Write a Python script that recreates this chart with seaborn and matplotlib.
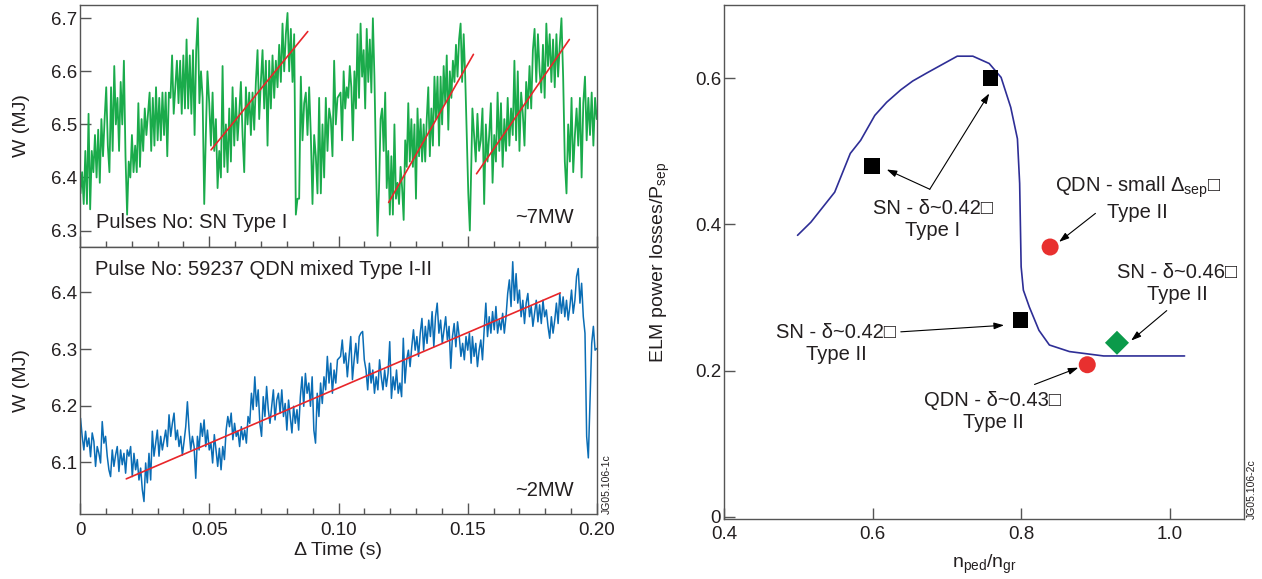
import numpy as np
import pandas as pd
import matplotlib
matplotlib.use("Agg")
import matplotlib.pyplot as plt
import seaborn as sns
from matplotlib.ticker import FixedLocator, FixedFormatter, MultipleLocator

# ---------------- data ----------------
# Top panel: SN, Type I ELMs, stored energy W (MJ) read in four time windows (s)
green_windows = [(0.0002, 0.0493), (0.0500, 0.0996), (0.1008, 0.1514), (0.1518, 0.1999)]
green_w1 = [6.37, 6.41, 6.35, 6.45, 6.35, 6.52, 6.34, 6.45, 6.41, 6.48,
            6.40, 6.49, 6.39, 6.51, 6.44, 6.51, 6.57, 6.46, 6.41, 6.57,
            6.45, 6.61, 6.50, 6.55, 6.45, 6.58, 6.50, 6.62, 6.44, 6.33,
            6.43, 6.40, 6.48, 6.41, 6.46, 6.41, 6.54, 6.42, 6.51, 6.45,
            6.53, 6.48, 6.52, 6.56, 6.45, 6.55, 6.46, 6.57, 6.47, 6.55,
            6.47, 6.56, 6.48, 6.56, 6.44, 6.56, 6.55, 6.63, 6.52, 6.57,
            6.62, 6.54, 6.62, 6.52, 6.63, 6.53, 6.66, 6.53, 6.63, 6.52,
            6.64, 6.48, 6.64, 6.70, 6.54, 6.60, 6.55, 6.35, 6.48, 6.60]
green_w2 = [6.54, 6.46, 6.56, 6.45, 6.51, 6.38, 6.45, 6.40, 6.61, 6.42,
            6.50, 6.41, 6.53, 6.43, 6.57, 6.46, 6.55, 6.47, 6.52, 6.58,
            6.48, 6.41, 6.57, 6.50, 6.56, 6.48, 6.56, 6.49, 6.58, 6.64,
            6.51, 6.58, 6.64, 6.53, 6.62, 6.46, 6.62, 6.53, 6.63, 6.55,
            6.62, 6.57, 6.65, 6.58, 6.69, 6.60, 6.67, 6.71, 6.60, 6.68,
            6.58, 6.67, 6.33, 6.36, 6.36, 6.59, 6.47, 6.54, 6.56, 6.48,
            6.57, 6.48, 6.35, 6.48, 6.44, 6.37, 6.55, 6.37, 6.50, 6.40,
            6.55, 6.45, 6.53, 6.51, 6.44, 6.62, 6.50, 6.55]
green_w3 = [6.56, 6.47, 6.60, 6.53, 6.57, 6.55, 6.61, 6.57, 6.47, 6.60,
            6.53, 6.67, 6.55, 6.69, 6.59, 6.64, 6.53, 6.68, 6.58, 6.66,
            6.56, 6.70, 6.59, 6.43, 6.29, 6.38, 6.51, 6.53, 6.45, 6.56,
            6.38, 6.45, 6.33, 6.44, 6.33, 6.50, 6.36, 6.39, 6.35, 6.42,
            6.38, 6.32, 6.47, 6.42, 6.54, 6.43, 6.51, 6.42, 6.50, 6.36,
            6.53, 6.44, 6.51, 6.43, 6.50, 6.43, 6.51, 6.57, 6.44, 6.53,
            6.46, 6.59, 6.51, 6.59, 6.46, 6.59, 6.50, 6.61, 6.54, 6.63,
            6.49, 6.60, 6.55, 6.62, 6.58, 6.65, 6.59, 6.66, 6.69, 6.58,
            6.67, 6.59, 6.48, 6.37, 6.30, 6.43]
green_w4 = [6.53, 6.48, 6.43, 6.52, 6.45, 6.47, 6.53, 6.35, 6.50, 6.43,
            6.48, 6.54, 6.39, 6.48, 6.43, 6.56, 6.45, 6.54, 6.42, 6.51,
            6.45, 6.55, 6.46, 6.53, 6.48, 6.62, 6.47, 6.60, 6.45, 6.56,
            6.52, 6.46, 6.58, 6.53, 6.61, 6.53, 6.64, 6.68, 6.58, 6.67,
            6.60, 6.56, 6.65, 6.55, 6.69, 6.61, 6.67, 6.58, 6.66, 6.57,
            6.67, 6.59, 6.65, 6.70, 6.59, 6.43, 6.37, 6.50, 6.43, 6.55,
            6.41, 6.48, 6.53, 6.46, 6.55, 6.40, 6.54, 6.59, 6.47, 6.55,
            6.48, 6.56, 6.46, 6.55, 6.51]
top_fit_t = [[0.0507, 0.0881], [0.1194, 0.1522], [0.1534, 0.1893]]
top_fit_w = [[6.452, 6.675], [6.353, 6.632], [6.407, 6.660]]

# Bottom panel: pulse 59237, QDN mixed Type I-II
blue_windows = [(0.0002, 0.0493), (0.0500, 0.0996), (0.1008, 0.1513), (0.1518, 0.1999)]
blue_w1 = [6.178, 6.146, 6.122, 6.155, 6.128, 6.143, 6.110, 6.152, 6.137, 6.093,
           6.128, 6.116, 6.099, 6.172, 6.134, 6.146, 6.111, 6.087, 6.075, 6.122,
           6.093, 6.113, 6.128, 6.084, 6.122, 6.096, 6.116, 6.081, 6.122, 6.111,
           6.128, 6.075, 6.116, 6.087, 6.105, 6.069, 6.090, 6.052, 6.031, 6.099,
           6.064, 6.116, 6.069, 6.155, 6.111, 6.134, 6.157, 6.111, 6.146, 6.122,
           6.140, 6.157, 6.128, 6.184, 6.146, 6.169, 6.187, 6.140, 6.157, 6.128,
           6.146, 6.113, 6.137, 6.163, 6.207, 6.157, 6.122, 6.146, 6.128, 6.072,
           6.146, 6.122, 6.169, 6.146, 6.175, 6.128, 6.157]
blue_w2 = [6.122, 6.134, 6.099, 6.149, 6.122, 6.093, 6.125, 6.087, 6.128, 6.105,
           6.157, 6.181, 6.163, 6.187, 6.140, 6.169, 6.146, 6.155, 6.128, 6.163,
           6.140, 6.157, 6.134, 6.181, 6.169, 6.222, 6.193, 6.251, 6.199, 6.228,
           6.169, 6.146, 6.216, 6.181, 6.234, 6.193, 6.169, 6.199, 6.228, 6.175,
           6.210, 6.222, 6.187, 6.228, 6.181, 6.204, 6.157, 6.210, 6.181, 6.152,
           6.199, 6.169, 6.193, 6.157, 6.216, 6.251, 6.199, 6.257, 6.222, 6.240,
           6.199, 6.251, 6.157, 6.134, 6.222, 6.181, 6.240, 6.204, 6.251, 6.228,
           6.287, 6.240, 6.275, 6.222, 6.263, 6.240, 6.281]
blue_w3 = [6.287, 6.316, 6.275, 6.293, 6.251, 6.287, 6.322, 6.246, 6.281, 6.310,
           6.275, 6.322, 6.328, 6.331, 6.281, 6.263, 6.228, 6.275, 6.240, 6.263,
           6.222, 6.251, 6.228, 6.281, 6.251, 6.228, 6.263, 6.234, 6.257, 6.313,
           6.213, 6.251, 6.228, 6.263, 6.222, 6.240, 6.216, 6.319, 6.240, 6.281,
           6.298, 6.269, 6.304, 6.334, 6.298, 6.322, 6.287, 6.328, 6.354, 6.298,
           6.340, 6.310, 6.351, 6.322, 6.366, 6.304, 6.357, 6.381, 6.328, 6.351,
           6.310, 6.334, 6.357, 6.316, 6.340, 6.266, 6.322, 6.345, 6.304, 6.348,
           6.322, 6.287, 6.310, 6.281, 6.322, 6.298, 6.328, 6.275]
blue_w4 = [6.322, 6.287, 6.310, 6.269, 6.298, 6.316, 6.281, 6.334, 6.381, 6.322,
           6.357, 6.328, 6.366, 6.334, 6.375, 6.328, 6.351, 6.334, 6.363, 6.328,
           6.357, 6.398, 6.422, 6.375, 6.454, 6.386, 6.433, 6.381, 6.404, 6.357,
           6.386, 6.345, 6.381, 6.398, 6.357, 6.375, 6.340, 6.363, 6.386, 6.348,
           6.378, 6.345, 6.386, 6.357, 6.369, 6.340, 6.319, 6.357, 6.328, 6.351,
           6.381, 6.345, 6.398, 6.363, 6.392, 6.357, 6.386, 6.351, 6.375, 6.404,
           6.363, 6.386, 6.428, 6.442, 6.381, 6.416, 6.357, 6.328, 6.146, 6.108,
           6.210, 6.310, 6.340, 6.298, 6.301]
bot_fit_t = [0.0179, 0.1858]
bot_fit_w = [6.071, 6.399]

time_ticks = [0, 0.05, 0.10, 0.15, 0.20]
time_ticklabels = ["0", "0.05", "0.10", "0.15", "0.20"]
top_yticks = [6.3, 6.4, 6.5, 6.6, 6.7]
bot_yticks = [6.1, 6.2, 6.3, 6.4]

# Right panel: ELM power losses / P_sep vs n_ped / n_gr
curve_x = [0.499, 0.517, 0.549, 0.570, 0.584, 0.603, 0.619, 0.638, 0.654, 0.673,
           0.714, 0.735, 0.757, 0.773, 0.786, 0.795, 0.798, 0.800, 0.803, 0.811,
           0.824, 0.838, 0.865, 0.911, 1.020]
curve_y = [0.385, 0.403, 0.444, 0.497, 0.515, 0.549, 0.567, 0.584, 0.596, 0.607,
           0.630, 0.630, 0.620, 0.601, 0.560, 0.517, 0.456, 0.342, 0.310, 0.287,
           0.255, 0.235, 0.226, 0.220, 0.220]
sn_x = [0.599, 0.759, 0.799]
sn_y = [0.480, 0.600, 0.269]
qdn_x = [0.839, 0.889]
qdn_y = [0.369, 0.208]
sn46_x = [0.929]
sn46_y = [0.238]
r_xticks = [0.4, 0.6, 0.8, 1.0]
r_xticklabels = ["0.4", "0.6", "0.8", "1.0"]
r_yticks = [0, 0.2, 0.4, 0.6]
r_yticklabels = ["0", "0.2", "0.4", "0.6"]

# annotations: text, text centre, list of (arrow tail, arrow head)
notes = [
    ("SN - δ~0.42□\nType I", (0.681, 0.407),
     [((0.677, 0.448), (0.619, 0.475)), ((0.677, 0.448), (0.757, 0.579))]),
    ("QDN - small Δ$_{\\mathrm{sep}}$□\nType II", (0.957, 0.436),
     [((0.900, 0.415), (0.851, 0.376))]),
    ("SN - δ~0.46□\nType II", (1.010, 0.319),
     [((0.996, 0.282), (0.948, 0.241))]),
    ("SN - δ~0.42□\nType II", (0.551, 0.237),
     [((0.638, 0.253), (0.777, 0.262))]),
    ("QDN - δ~0.43□\nType II", (0.762, 0.144),
     [((0.818, 0.181), (0.877, 0.204))]),
]

# ---------------- style ----------------
GREEN = "#1aab4b"
BLUE = "#0a6db5"
RED = "#e8262a"
NAVY = "#2e2e96"
TXT = "#231f20"
SPINE = "#555555"

sns.set_theme(style="ticks")
plt.rcParams["font.family"] = ["Liberation Sans", "DejaVu Sans"]
plt.rcParams.update({
    "mathtext.fontset": "custom",
    "mathtext.rm": "Liberation Sans",
    "mathtext.it": "Liberation Sans:italic",
    "mathtext.bf": "Liberation Sans:bold",
    "text.color": TXT,
    "axes.labelcolor": TXT,
    "xtick.color": SPINE,
    "ytick.color": SPINE,
    "xtick.labelcolor": TXT,
    "ytick.labelcolor": TXT,
})

FW, FH = 1262, 579
fig = plt.figure(figsize=(FW / 100, FH / 100), dpi=100)


def box(l, t, r, b):
    return [l / FW, 1 - b / FH, (r - l) / FW, (b - t) / FH]


ax_top = fig.add_axes(box(80, 5, 597, 247))
ax_bot = fig.add_axes(box(80, 247, 597, 514))
ax_r = fig.add_axes(box(724, 5, 1244, 519))


def trace_frame(windows, segments):
    t = np.concatenate([np.linspace(a, b, len(s)) for (a, b), s in zip(windows, segments)])
    w = np.concatenate([np.asarray(s, float) for s in segments])
    return pd.DataFrame({"t": t, "W": w})


df_green = trace_frame(green_windows, [green_w1, green_w2, green_w3, green_w4])
df_blue = trace_frame(blue_windows, [blue_w1, blue_w2, blue_w3, blue_w4])

sns.lineplot(data=df_green, x="t", y="W", color=GREEN, lw=1.3,
             estimator=None, sort=False, ax=ax_top)
for tt, ww in zip(top_fit_t, top_fit_w):
    sns.lineplot(x=tt, y=ww, color=RED, lw=1.2, estimator=None, sort=False, ax=ax_top)

sns.lineplot(data=df_blue, x="t", y="W", color=BLUE, lw=1.1,
             estimator=None, sort=False, ax=ax_bot)
sns.lineplot(x=bot_fit_t, y=bot_fit_w, color=RED, lw=1.2, estimator=None, sort=False, ax=ax_bot)

for ax in (ax_top, ax_bot):
    ax.set_xlim(0, 0.2)
    ax.xaxis.set_major_locator(FixedLocator(time_ticks))
    ax.xaxis.set_minor_locator(MultipleLocator(0.01))
    ax.tick_params(axis="x", which="major", direction="in", length=8, width=1,
                   bottom=True, top=False)
    ax.tick_params(axis="x", which="minor", direction="in", length=4.5, width=1,
                   bottom=True, top=False)
    ax.tick_params(axis="y", direction="in", length=8, width=1, labelsize=13.5, pad=2)
    for s in ax.spines.values():
        s.set_color(SPINE)
        s.set_linewidth(1.0)
        s.set_visible(True)

ax_top.set_ylim(6.269, 6.725)
ax_top.yaxis.set_major_locator(FixedLocator(top_yticks))
ax_top.tick_params(axis="x", labelbottom=False)
ax_top.set_xlabel("")
ax_top.set_ylabel("W (MJ)", fontsize=14)
ax_top.yaxis.set_label_coords(-0.097, 0.5)

ax_bot.set_ylim(6.009, 6.48)
ax_bot.yaxis.set_major_locator(FixedLocator(bot_yticks))
ax_bot.xaxis.set_major_formatter(FixedFormatter(time_ticklabels))
ax_bot.tick_params(axis="x", which="major", labelsize=13.5, pad=6)
ax_bot.set_xlabel("Δ Time (s)", fontsize=14)
ax_bot.xaxis.set_label_coords(0.5, -0.105)
ax_bot.set_ylabel("W (MJ)", fontsize=14)
ax_bot.yaxis.set_label_coords(-0.097, 0.5)

ax_top.text(0.0062, 6.305, "Pulses No: SN Type I", fontsize=14.5, ha="left", va="baseline")
ax_top.text(0.191, 6.314, "~7MW", fontsize=14.5, ha="right", va="baseline")
ax_bot.text(0.0057, 6.430, "Pulse No: 59237 QDN mixed Type I-II", fontsize=14.5,
            ha="left", va="baseline")
ax_bot.text(0.191, 6.040, "~2MW", fontsize=14.5, ha="right", va="baseline")

fig.text(602 / FW, 1 - 514 / FH, "JG05.106-1c", rotation=90, fontsize=7.5,
         ha="left", va="bottom")
fig.text(1247 / FW, 1 - 519 / FH, "JG05.106-2c", rotation=90, fontsize=7.5,
         ha="left", va="bottom")

# ---------------- right panel ----------------
df_curve = pd.DataFrame({"x": curve_x, "y": curve_y})
sns.lineplot(data=df_curve, x="x", y="y", color=NAVY, lw=1.2,
             estimator=None, sort=False, ax=ax_r)
sns.scatterplot(x=sn_x, y=sn_y, marker="s", s=125, color="black",
                edgecolor="none", ax=ax_r, zorder=4)
sns.scatterplot(x=qdn_x, y=qdn_y, marker="o", s=150, color="#e8302f",
                edgecolor="none", ax=ax_r, zorder=4)
sns.scatterplot(x=sn46_x, y=sn46_y, marker="D", s=150, color="#0b9a4a",
                edgecolor="none", ax=ax_r, zorder=4)

for text, (tx, ty), arrows in notes:
    ax_r.text(tx, ty, text, fontsize=14.5, ha="center", va="center",
              multialignment="center", linespacing=1.2)
    for tail, head in arrows:
        ax_r.annotate("", xy=head, xytext=tail,
                      arrowprops=dict(arrowstyle="-|>,head_length=0.6,head_width=0.2",
                                      color="black", lw=0.8, shrinkA=0, shrinkB=0,
                                      mutation_scale=10))

ax_r.set_xlim(0.4, 1.1)
ax_r.set_ylim(-0.003, 0.70)
ax_r.xaxis.set_major_locator(FixedLocator(r_xticks))
ax_r.xaxis.set_major_formatter(FixedFormatter(r_xticklabels))
ax_r.yaxis.set_major_locator(FixedLocator(r_yticks))
ax_r.yaxis.set_major_formatter(FixedFormatter(r_yticklabels))
ax_r.tick_params(axis="x", direction="in", length=8, width=1, labelsize=13.5, pad=5)
ax_r.tick_params(axis="y", direction="in", length=8, width=1, labelsize=13.5, pad=2)
for s in ax_r.spines.values():
    s.set_color(SPINE)
    s.set_linewidth(1.0)
    s.set_visible(True)
ax_r.set_xlabel("n$_{\\mathrm{ped}}$/n$_{\\mathrm{gr}}$", fontsize=14)
ax_r.xaxis.set_label_coords(0.5, -0.066)
ax_r.set_ylabel("ELM power losses/P$_{\\mathrm{sep}}$", fontsize=14)
ax_r.yaxis.set_label_coords(-0.10, 0.5)

fig.savefig("out.png", dpi=100)
